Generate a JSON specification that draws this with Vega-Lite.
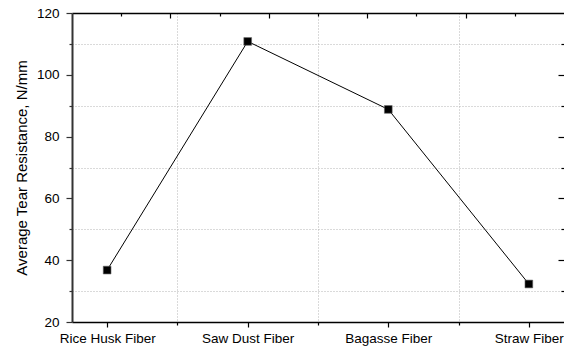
{
  "$schema": "https://vega.github.io/schema/vega-lite/v6.json",
  "autosize": "none",
  "padding": {"left": 72, "top": 13, "right": 0, "bottom": 28},
  "width": 492,
  "height": 309,
  "background": "white",
  "config": {
    "view": {"stroke": null},
    "font": "Liberation Sans",
    "axis": {"labelFont": "Liberation Sans", "titleFont": "Liberation Sans", "labelColor": "#000", "titleColor": "#000", "titleFontWeight": "normal"}
  },
  "data": {
    "values": [
      {"fiber": "Rice Husk Fiber", "idx": 1, "tear": 36.8},
      {"fiber": "Saw Dust Fiber", "idx": 2, "tear": 110.8},
      {"fiber": "Bagasse Fiber", "idx": 3, "tear": 88.8},
      {"fiber": "Straw Fiber", "idx": 4, "tear": 32.3}
    ]
  },
  "layer": [
    {
      "mark": {"type": "line", "color": "#000", "strokeWidth": 1},
      "encoding": {
        "x": {
          "field": "idx", "type": "quantitative",
          "scale": {"domain": [0.75, 4.25], "nice": false, "zero": false},
          "axis": {
            "orient": "bottom", "title": null,
            "values": [1, 1.5, 2, 2.5, 3, 3.5, 4],
            "labelExpr": "datum.value == 1 ? 'Rice Husk Fiber' : datum.value == 2 ? 'Saw Dust Fiber' : datum.value == 3 ? 'Bagasse Fiber' : datum.value == 4 ? 'Straw Fiber' : ''",
            "labelFontSize": 13.5, "labelPadding": 4, "labelFlush": false,
            "tickSize": {"condition": {"test": "datum.value % 1 != 0", "value": 3}, "value": 5},
            "tickColor": "#000", "tickWidth": 1.2,
            "domainColor": "#000", "domainWidth": 1.5,
            "grid": true, "gridDash": [1, 2], "gridColor": "#b4b4b4", "gridWidth": 1,
            "gridOpacity": {"condition": {"test": "datum.value % 1 != 0", "value": 1}, "value": 0}
          }
        },
        "y": {
          "field": "tear", "type": "quantitative",
          "scale": {"domain": [20, 120], "nice": false, "zero": false},
          "axis": {
            "orient": "left", "title": "Average Tear Resistance, N/mm",
            "titleFontSize": 15, "titlePadding": 7,
            "values": [20, 30, 40, 50, 60, 70, 80, 90, 100, 110, 120],
            "labelExpr": "datum.value % 20 == 0 ? datum.label : ''",
            "labelFontSize": 13.5, "labelPadding": 7, "labelFlush": false,
            "tickSize": {"condition": {"test": "datum.value % 20 != 0", "value": 3}, "value": 6},
            "tickColor": "#333", "tickWidth": 1.2,
            "domainColor": "#333", "domainWidth": 2,
            "grid": true, "gridDash": [1, 2], "gridColor": "#b4b4b4", "gridWidth": 1,
            "gridOpacity": {"condition": {"test": "datum.value % 20 != 0", "value": 1}, "value": 0}
          }
        }
      }
    },
    {
      "mark": {"type": "point", "shape": "square", "filled": true, "size": 60, "color": "#000", "opacity": 1, "stroke": "#666", "strokeWidth": 0.6},
      "encoding": {
        "x": {
          "field": "idx", "type": "quantitative",
          "scale": {"domain": [0.75, 4.25], "nice": false, "zero": false},
          "axis": {
            "orient": "top", "title": null, "labels": false, "grid": false,
            "values": [1.1, 1.45, 1.8, 2.15, 2.5, 2.85, 3.2, 3.55, 3.9],
            "tickSize": {"condition": {"test": "round((datum.value - 0.75) / 0.35) % 2 == 0", "value": -5}, "value": -3},
            "tickColor": "#000", "tickWidth": 1.2,
            "domainColor": "#000", "domainWidth": 1.5
          }
        },
        "y": {
          "field": "tear", "type": "quantitative",
          "scale": {"domain": [20, 120], "nice": false, "zero": false},
          "axis": {
            "orient": "right", "title": null, "labels": false, "grid": false, "domain": false,
            "values": [30, 40, 50, 60, 70, 80, 90, 100, 110],
            "tickSize": {"condition": {"test": "datum.value % 20 != 0", "value": -3}, "value": -6},
            "tickColor": "#000", "tickWidth": 1.2
          }
        }
      }
    }
  ],
  "resolve": {"axis": {"x": "independent", "y": "independent"}}
}
